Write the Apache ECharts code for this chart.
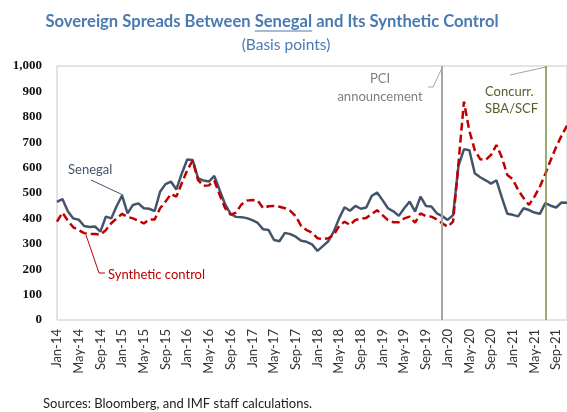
<!DOCTYPE html>
<html><head><meta charset="utf-8">
<script src="https://cdn.jsdelivr.net/npm/echarts@6/dist/echarts.min.js"></script>
<style>html,body{margin:0;padding:0;background:#fff}#c{width:567px;height:412px}</style>
</head><body><div id="c"></div>
<script>
const months = [
 'Jan-14','Feb-14','Mar-14','Apr-14','May-14','Jun-14','Jul-14','Aug-14','Sep-14','Oct-14','Nov-14','Dec-14',
 'Jan-15','Feb-15','Mar-15','Apr-15','May-15','Jun-15','Jul-15','Aug-15','Sep-15','Oct-15','Nov-15','Dec-15',
 'Jan-16','Feb-16','Mar-16','Apr-16','May-16','Jun-16','Jul-16','Aug-16','Sep-16','Oct-16','Nov-16','Dec-16',
 'Jan-17','Feb-17','Mar-17','Apr-17','May-17','Jun-17','Jul-17','Aug-17','Sep-17','Oct-17','Nov-17','Dec-17',
 'Jan-18','Feb-18','Mar-18','Apr-18','May-18','Jun-18','Jul-18','Aug-18','Sep-18','Oct-18','Nov-18','Dec-18',
 'Jan-19','Feb-19','Mar-19','Apr-19','May-19','Jun-19','Jul-19','Aug-19','Sep-19','Oct-19','Nov-19','Dec-19',
 'Jan-20','Feb-20','Mar-20','Apr-20','May-20','Jun-20','Jul-20','Aug-20','Sep-20','Oct-20','Nov-20','Dec-20',
 'Jan-21','Feb-21','Mar-21','Apr-21','May-21','Jun-21','Jul-21','Aug-21','Sep-21','Oct-21','Nov-21'
];
const senegal = [
 465,476,428,400,395,370,366,368,348,407,400,449,
 490,420,453,459,440,438,429,505,535,545,514,577,
 632,630,558,549,545,567,510,455,418,406,405,401,
 393,382,357,354,315,310,343,338,328,312,308,298,
 272,291,310,348,400,444,430,449,438,443,488,502,
 472,440,428,410,440,466,427,486,449,447,420,409,
 394,413,607,672,668,578,562,550,537,550,482,418,
 414,408,440,433,423,418,460,450,443,463,462
];
const synthetic = [
 387,423,391,365,354,342,338,339,336,354,381,400,
 418,406,400,391,380,396,396,440,466,496,486,538,
 590,627,551,528,530,548,492,440,415,423,455,470,
 472,470,440,448,449,446,440,430,409,370,354,344,
 322,318,322,335,370,387,374,394,399,402,417,432,
 413,393,385,385,400,407,383,420,409,407,396,381,
 367,387,617,860,745,669,633,630,650,689,640,571,
 554,512,480,453,486,525,575,630,681,726,765
];
const yTicks = [0,100,200,300,400,500,600,700,800,900,1000];
const events = [
 {month:'Dec-19', label:'PCI announcement'},
 {month:'Jul-21', label:'Concurr. SBA/SCF'}
];

const titleText = 'Sovereign Spreads Between Senegal and Its Synthetic Control';
const titleFont = 'bold 16.6px Lato';
const cv = document.createElement('canvas').getContext('2d');
cv.font = titleFont;
const tW = cv.measureText(titleText).width;
const preW = cv.measureText('Sovereign Spreads Between ').width;
const senW = cv.measureText('Senegal').width;
const tCx = 272;
const ulX0 = tCx - tW/2 + preW;

const chart = echarts.init(document.getElementById('c'), null, {renderer:'canvas'});
chart.setOption({
  animation:false,
  backgroundColor:'#fff',
  grid:{left:57, top:66, height:254, width:512.6, show:true, borderColor:'#c8c8c8', borderWidth:1, containLabel:false},
  xAxis:{
    type:'category', data:months, boundaryGap:false,
    axisLine:{show:false}, axisTick:{show:false}, splitLine:{show:false},
    axisLabel:{interval:3, rotate:90, margin:9, fontFamily:'Lato', fontSize:13, color:'#333'}
  },
  yAxis:{
    type:'value', min:0, max:1000, interval:100,
    axisLine:{show:false}, axisTick:{show:false}, splitLine:{show:false},
    axisLabel:{margin:15, fontFamily:'Liberation Serif', fontWeight:'bold', fontSize:13, color:'#111',
      formatter:v => yTicks.includes(v) ? v.toLocaleString('en-US') : ''}
  },
  series:[
    {name:'Senegal', type:'line', data:senegal, symbol:'none', smooth:false,
     lineStyle:{color:'#44546a', width:2.5}, z:3,
     markLine:{silent:true, symbol:'none', label:{show:false},
       data:[
         {xAxis:events[0].month, lineStyle:{color:'#a6a6a6', width:2, type:'solid'}},
         {xAxis:events[1].month, lineStyle:{color:'#77933c', width:1.5, type:'solid'}}
       ]}},
    {name:'Synthetic control', type:'line', data:synthetic, symbol:'none', smooth:false,
     lineStyle:{color:'#c00000', width:2.5, type:[8,4]}, z:4}
  ],
  graphic:[
    {type:'text', style:{text:titleText, x:tCx, y:22, textAlign:'center', textVerticalAlign:'middle', align:'center', verticalAlign:'middle', font:titleFont, fill:'#4a7ab2'}},
    {type:'line', shape:{x1:ulX0, y1:31, x2:ulX0+senW, y2:31}, style:{stroke:'#4a7ab2', lineWidth:1}},
    {type:'text', style:{text:'(Basis points)', x:286, y:45, textAlign:'center', textVerticalAlign:'middle', align:'center', verticalAlign:'middle', font:'15.5px Lato', fill:'#4a7ab2'}},
    {type:'text', style:{text:'Senegal', x:68, y:170, textAlign:'left', textVerticalAlign:'middle', align:'left', verticalAlign:'middle', font:'13px Lato', fill:'#44546a'}},
    {type:'line', shape:{x1:91, y1:180, x2:123, y2:195}, style:{stroke:'#44546a', lineWidth:1}},
    {type:'text', style:{text:'Synthetic control', x:108, y:275, textAlign:'left', textVerticalAlign:'middle', align:'left', verticalAlign:'middle', font:'13px Lato', fill:'#c00000'}},
    {type:'polyline', shape:{points:[[86,235],[99,273],[105,273]]}, style:{stroke:'#c00000', lineWidth:1, fill:null}},
    {type:'text', style:{text:'PCI\nannouncement', x:380, y:88, textAlign:'center', textVerticalAlign:'middle', align:'center', verticalAlign:'middle', font:'13px Lato', lineHeight:18, fill:'#7f7f7f'}},
    {type:'polyline', shape:{points:[[428,87],[433,87],[442,68]]}, style:{stroke:'#a6a6a6', lineWidth:1, fill:null}},
    {type:'text', style:{text:'Concurr.\nSBA/SCF', x:485, y:100, textAlign:'left', textVerticalAlign:'middle', align:'left', verticalAlign:'middle', font:'13px Lato', lineHeight:17, fill:'#4f6228'}},
    {type:'line', shape:{x1:510, y1:75, x2:546, y2:67}, style:{stroke:'#a6a6a6', lineWidth:1}},
    {type:'text', style:{text:'Sources: Bloomberg, and IMF staff calculations.', x:43, y:404, textAlign:'left', textVerticalAlign:'middle', align:'left', verticalAlign:'middle', font:'13px Lato', fill:'#222'}}
  ]
});
</script></body></html>
